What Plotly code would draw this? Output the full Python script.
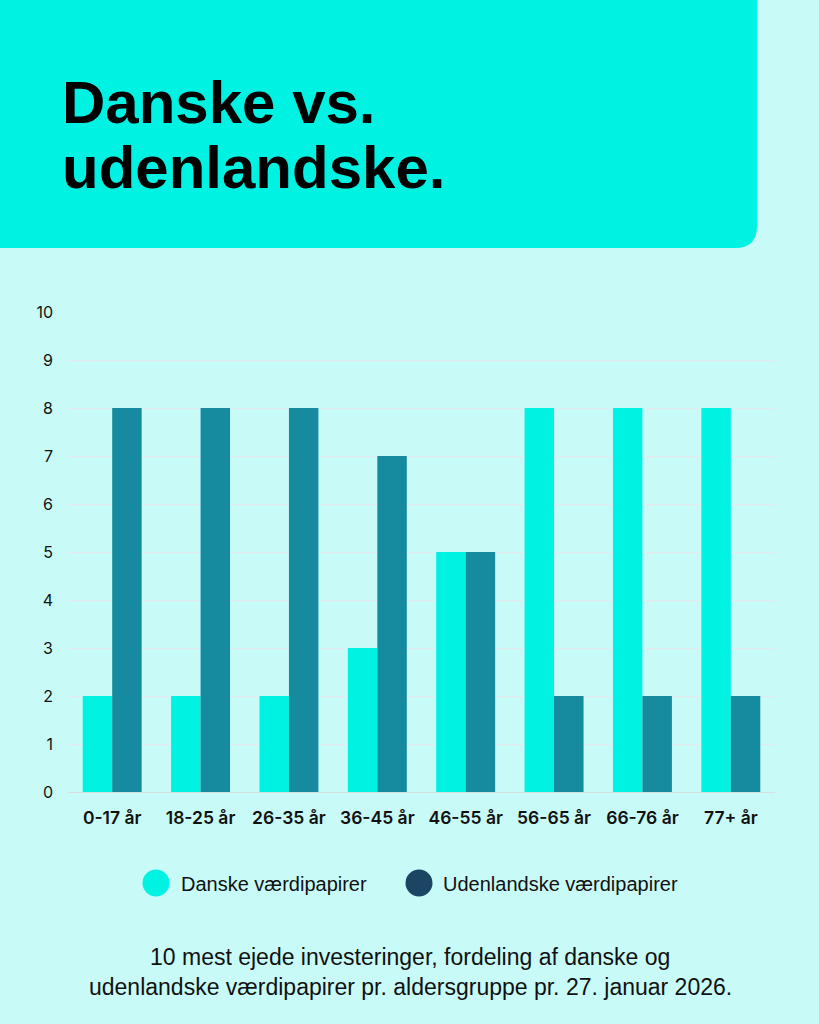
import plotly.graph_objects as go

categories = ["0-17 år", "18-25 år", "26-35 år", "36-45 år", "46-55 år", "56-65 år", "66-76 år", "77+ år"]
danske = [2, 2, 2, 3, 5, 8, 8, 8]
udenlandske = [8, 8, 8, 7, 5, 2, 2, 2]
series_names = ["Danske værdipapirer", "Udenlandske værdipapirer"]
y_ticks = list(range(0, 11))
title_lines = ["Danske vs.", "udenlandske."]
caption_lines = ["10 mest ejede investeringer, fordeling af danske og",
                 "udenlandske værdipapirer pr. aldersgruppe pr. 27. januar 2026."]

W, H = 819, 1024
ML, MR, MT, MB = 68, 44, 312, 232
PW, PH = W - ML - MR, H - MT - MB

def px(x):
    return (x - ML) / PW

def py(y):
    return (H - MB - y) / PH

BG = "#C8FBF8"
CYAN = "#00F2E3"
TEAL = "#168A9E"
NAVY = "#1B4562"

fig = go.Figure()
fig.add_trace(go.Bar(x=categories, y=danske, name=series_names[0], marker_color=CYAN,
                     marker_line_width=0, showlegend=False))
fig.add_trace(go.Bar(x=categories, y=udenlandske, name=series_names[1], marker_color=TEAL,
                     marker_line_width=0, showlegend=False))

# header box with rounded bottom-right corner
r = 22
x0, x1, y0, y1 = -5, 757, -5, 248
path = (f"M {px(x0)},{py(y0)} L {px(x1)},{py(y0)} L {px(x1)},{py(y1 - r)} "
        f"Q {px(x1)},{py(y1)} {px(x1 - r)},{py(y1)} L {px(x0)},{py(y1)} Z")
shapes = [dict(type="path", path=path, xref="paper", yref="paper", fillcolor=CYAN,
               line=dict(width=0), layer="below")]

# legend circles
for cx, col in [(156, CYAN), (419, NAVY)]:
    rr = 13.5
    shapes.append(dict(type="circle", xref="paper", yref="paper",
                       x0=px(cx - rr), x1=px(cx + rr), y0=py(883 + rr), y1=py(883 - rr),
                       fillcolor=col, line=dict(width=0)))

annotations = []
for i, t in enumerate(title_lines):
    annotations.append(dict(text=t, x=px(60), y=py(102 + i * 65), xref="paper", yref="paper",
                            xanchor="left", yanchor="middle", showarrow=False,
                            font=dict(family="Liberation Sans", size=60, color="#000000",
                                      weight="bold")))
for tx, t in [(179, series_names[0]), (441, series_names[1])]:
    annotations.append(dict(text=t, x=px(tx), y=py(884), xref="paper", yref="paper",
                            xanchor="left", yanchor="middle", showarrow=False,
                            font=dict(family="Liberation Sans", size=20, color="#111111")))
for i, t in enumerate(caption_lines):
    annotations.append(dict(text=t, x=px(410), y=py(957 + i * 30), xref="paper", yref="paper",
                            xanchor="center", yanchor="middle", showarrow=False,
                            font=dict(family="Liberation Sans", size=23, color="#111111")))

fig.update_layout(
    width=W, height=H, margin=dict(l=ML, r=MR, t=MT, b=MB, pad=0),
    paper_bgcolor=BG, plot_bgcolor=BG,
    barmode="group", bargap=0.333, bargroupgap=0,
    shapes=shapes, annotations=annotations,
    xaxis=dict(tickfont=dict(family="Inter", size=17.5, color="#111111", weight=600),
               showgrid=False, showline=False, ticks="", ticklabelstandoff=13),
    yaxis=dict(range=[0, 10], tickvals=y_ticks, showgrid=True, gridcolor="#E6E8EE",
               gridwidth=1, zeroline=True, zerolinecolor="#D8DDE0", zerolinewidth=1,
               tickfont=dict(family="Inter", size=16, color="#111111"), ticks="",
               ticklabelstandoff=14),
)
fig.write_html("out.html")
